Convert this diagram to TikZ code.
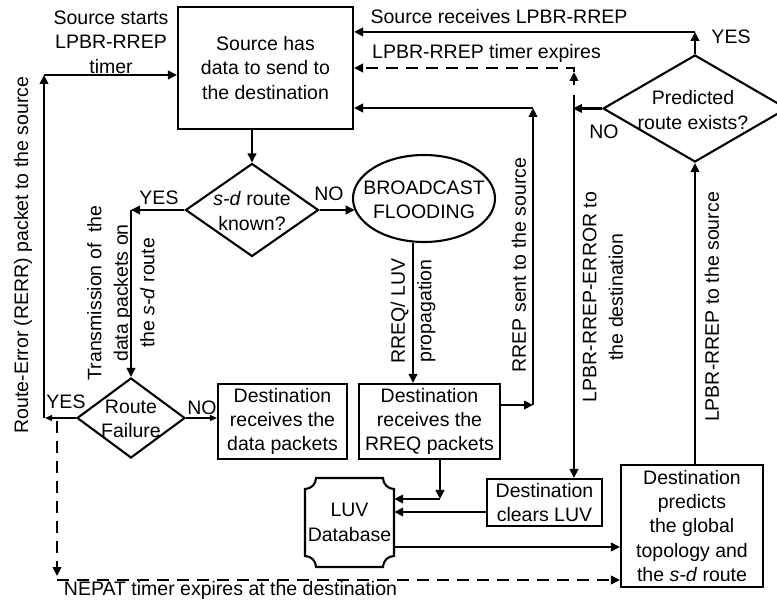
\documentclass[tikz,border=0pt]{standalone}
\usepackage{fontspec}
\setmainfont{Liberation Sans}
\usetikzlibrary{arrows.meta,shapes.geometric,calc}
\begin{document}
\begin{tikzpicture}[x=1pt,y=-1pt,
  font=\fontsize{19.5}{24.4}\selectfont,
  box/.style={draw,line width=2.1pt,inner sep=0pt,align=center},
  dia/.style={draw,diamond,line width=2.1pt,inner sep=0pt},
  arr/.style={line width=2.7pt,-{Triangle[length=9pt,width=8.5pt]}},
  thinarr/.style={line width=1.4pt,-{Triangle[length=7pt,width=6pt]}},
  dsh/.style={line width=2.7pt,dash pattern=on 12pt off 8pt},
  lbl/.style={inner sep=0pt,align=center},
  rlbl/.style={inner sep=0pt,align=center,rotate=90,font=\fontsize{19.5}{26.5}\selectfont}
]
\fill[white] (0,0) rectangle (777,601);
\useasboundingbox (0,0) rectangle (777,601);

% nodes
\node[box,minimum width=175pt,minimum height=122pt] (src) at (265.5,68) {Source has\\data to send to\\the destination};
\node[dia,minimum width=133pt,minimum height=93pt] (sd) at (252,210) {};
\node[lbl] (sdt) at (252,211) {\textit{s-d} route\\known?};
\node[draw,ellipse,line width=2.1pt,minimum width=142pt,minimum height=87pt,inner sep=0pt] (bc) at (424,198.5) {};
\node[lbl] (bct) at (424,200) {BROADCAST\\FLOODING};
\node[dia,minimum width=108pt,minimum height=80pt] (rf) at (131,418) {};
\node[lbl] (rft) at (131,419) {Route\\Failure};
\node[box,minimum width=129pt,minimum height=75pt] (data) at (282.5,421.5) {Destination\\receives the\\data packets};
\node[box,minimum width=141pt,minimum height=75pt] (rreq) at (429.5,421.5) {Destination\\receives the\\RREQ packets};
\node[lbl,minimum width=89pt,minimum height=89pt] (luv) at (349.5,522.5) {LUV\\Database};
\node[box,minimum width=115pt,minimum height=47pt] (clr) at (544.5,502.5) {Destination\\clears LUV};
\node[box,minimum width=142pt,minimum height=122pt] (pred) at (692,526) {Destination\\predicts\\the global\\topology and\\the \textit{s-d} route};
\node[dia,minimum width=184pt,minimum height=107pt] (pr) at (695,108.5) {};
\node[lbl] (prt) at (693,110) {Predicted\\route exists?};

% LUV database outline (concave corners)
\begin{scope}[shift={(luv.center)}]
\draw[line width=2.1pt]
  (-33.5,-44.5) -- (33.5,-44.5)
  .. controls (33.5,-38.5) and (38.5,-33.5) .. (44.5,-33.5)
  -- (44.5,33.5)
  .. controls (38.5,33.5) and (33.5,38.5) .. (33.5,44.5)
  -- (-33.5,44.5)
  .. controls (-33.5,38.5) and (-38.5,33.5) .. (-44.5,33.5)
  -- (-44.5,-33.5)
  .. controls (-38.5,-33.5) and (-33.5,-38.5) .. cycle;
\end{scope}

% connectors
\draw[arr] (sd.north |- src.south) -- (sd.north);
\coordinate (yc) at (rf.north |- sd.west);
\draw[arr] (sd.west) -- (yc);
\draw[arr] (yc) -- (rf.north);
\draw[arr] (sd.east) -- (sd.east -| bc.190);
\draw[arr] ($(bc.south)+(-11,0)$) -- ($(rreq.north)+(-16.5,0)$);

\coordinate (c1) at (533,405);
\coordinate (c2) at (533,108);
\draw[arr] (rreq.east |- c1) -- (c1);
\draw[arr] (c1) -- (c2);
\draw[arr] (c2) -- (c2 -| src.east);

\coordinate (c4) at (440,499);
\draw[arr] (rreq.south -| c4) -- (c4);
\draw[arr] (c4) -- (c4 -| luv.east);
\draw[arr] ($(clr.west)+(0,9.5)$) coordinate (c5) -- (c5 -| luv.east);
\draw[arr] ($(luv.east)+(0,24.5)$) coordinate (c6) -- (c6 -| pred.west);

\draw[arr] (pr.south |- pred.north) -- (pr.south);
\coordinate (c3) at ($(pr.north)+(0,-22)$);
\draw[arr] (pr.north) -- (c3);
\draw[arr] (c3) -- (c3 -| src.east);

\coordinate (c7) at ($(pr.west)+(-29,0)$);
\draw[arr] (pr.west) -- (c7);
\coordinate (v1) at (574,95);
\draw[arr] (v1) -- (v1 |- clr.north);

\coordinate (d1) at (574,85);
\coordinate (d2) at (574,68);
\draw[arr] (d1) -- ($(d2)+(0,4)$);
\draw[dsh,-{Triangle[length=9pt,width=8.5pt]}] ($(d2)+(0,4)$) -- (d2) -- (d2 -| src.east);

\coordinate (c8) at (44,418);
\coordinate (c9) at (44,75);
\draw[thinarr] (rf.west) -- ($(c8)+(1,0)$);
\draw[arr] (c8) -- (c9);
\draw[arr] (c9) -- (c9 -| src.west);

\coordinate (e1) at (57,421);
\coordinate (e2) at (57,580);
\draw[dsh,-{Triangle[length=9pt,width=8.5pt]}] (e1) -- ($(e2)+(0,-4)$);
\draw[dsh,-{Triangle[length=9pt,width=8.5pt]}] (e2) -- (e2 -| pred.west);

\draw[thinarr] (rf.east) -- (rf.east -| data.west);

% labels
\node[lbl] (l1) at (159,198) {YES};
\node[lbl] (l2) at (329,194) {NO};
\node[lbl] (l3) at (202,408) {NO};
\node[lbl] (l4) at (66,402) {YES};
\node[lbl] (l5) at (731,37) {YES};
\node[lbl] (l6) at (604,132) {NO};
\node[lbl] (l7) at (111,42) {Source starts\\LPBR-RREP\\timer};
\node[lbl] (l8) at (499,17) {Source receives LPBR-RREP};
\node[lbl] (l9) at (486.5,53) {LPBR-RREP timer expires};
\node[lbl] (l10) at (230.5,590) {NEPAT timer expires at the destination};
\node[rlbl] (l11) at (23,255) {Route-Error (RERR) packet to the source};
\node[rlbl] (l12) at (121,293) {Transmission of \ the\\data packets on\\the \textit{s-d} route};
\node[rlbl] (l13) at (413,311) {RREQ/ LUV\\propagation};
\node[rlbl] (l14) at (519,265) {RREP sent to the source};
\node[rlbl] (l15) at (603,297) {LPBR-RREP-ERROR to\\the destination};
\node[rlbl] (l16) at (712,307) {LPBR-RREP to the source};
\end{tikzpicture}
\end{document}
